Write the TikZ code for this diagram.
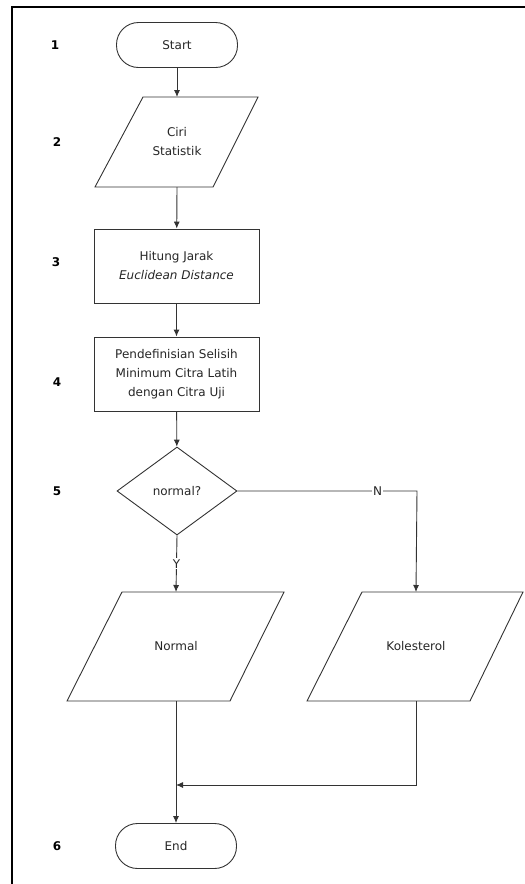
\documentclass[tikz,border=0pt]{standalone}
\usepackage{fontspec}
\setmainfont{DejaVu Sans}
\usetikzlibrary{shapes.geometric,arrows.meta}
\begin{document}
\begin{tikzpicture}[x=1pt,y=-1pt,
  line/.style={draw=black!80, line width=0.9pt},
  arr/.style={line, -{Latex[length=7pt,width=6pt]}},
  lbl/.style={font=\fontsize{12}{14}\selectfont\bfseries, text=black},
  txt/.style={font=\fontsize{12}{19}\selectfont, text=black!85, align=center},
  term/.style={line, rounded corners=22pt, minimum width=121pt, minimum height=45pt, txt},
  boxst/.style={line, minimum width=165pt, minimum height=74pt, txt},
  ]
\useasboundingbox (0,0) rectangle (525,884);
\draw[line width=1.2pt] (12,884) -- (12,7) -- (525,7);
% steps
\node[term] (start) at (177,45) {Start};
\path[line] (143,97) -- (258,97) -- (213,187) -- (95,187) -- cycle;
\node[txt] (ciri) at (177,142) {Ciri\\Statistik};
\coordinate (ciriT) at (177,97);
\coordinate (ciriB) at (177,187);
\node[boxst] (hitung) at (176.5,266) {Hitung Jarak\\\textit{Euclidean Distance}};
\node[boxst] (def) at (176.5,374) {Pendefinisian Selisih\\Minimum Citra Latih\\dengan Citra Uji};
\node[line, diamond, aspect=1.36, minimum width=120pt, minimum height=88pt, inner sep=0pt, txt] (dec) at (177,491) {normal?};
\path[line] (122,592) -- (284,592) -- (230,701) -- (67,701) -- cycle;
\node[txt] (normal) at (176,646) {Normal};
\coordinate (normT) at (176,592);
\coordinate (normB) at (176,701);
\path[line] (362,592) -- (523,592) -- (470,701) -- (307,701) -- cycle;
\node[txt] (kol) at (416,646) {Kolesterol};
\coordinate (kolT) at (416,592);
\coordinate (kolB) at (416,701);
\node[term] (end) at (176,846) {End};
% labels
\node[lbl] (l1) at (55,45) {1};
\node[lbl] (l2) at (57,142) {2};
\node[lbl] (l3) at (56,262) {3};
\node[lbl] (l4) at (57,382) {4};
\node[lbl] (l5) at (57,491) {5};
\node[lbl] (l6) at (57,846) {6};
% connectors
\draw[arr] (start) -- (ciriT);
\draw[arr] (ciriB) -- (hitung);
\draw[arr] (hitung) -- (def);
\draw[arr] (def) -- (dec);
\coordinate (ncorner) at (417,491);
\draw[arr] (dec.east) -- node[pos=0.78, fill=white, inner sep=1pt, txt] {N} (ncorner) -- (kolT);
\draw[arr] (dec.south) -- node[fill=white, inner sep=1pt, txt] {Y} (normT);
\coordinate (join) at (176,785);
\draw[arr] (normB) -- (end);
\draw[arr] (kolB) |- (join);
\end{tikzpicture}
\end{document}
